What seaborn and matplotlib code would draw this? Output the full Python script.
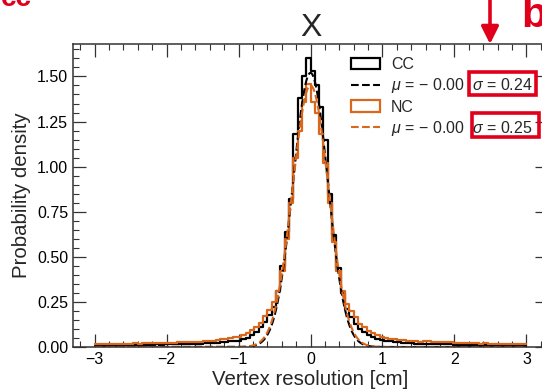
import numpy as np
import pandas as pd
import matplotlib
matplotlib.use("Agg")
import matplotlib.pyplot as plt
from matplotlib.patches import Patch, Rectangle
from matplotlib.lines import Line2D
from matplotlib.ticker import MultipleLocator
import seaborn as sns

# ---------------- data ----------------
bin_edges = [round(-3.0 + 0.06 * i, 4) for i in range(101)]          # 100 bins
bin_centers = [round(bin_edges[i] + 0.03, 4) for i in range(100)]

cc_density = [
    0.008, 0.009, 0.007, 0.010, 0.009, 0.008, 0.011, 0.010, 0.009, 0.012,
    0.010, 0.011, 0.013, 0.012, 0.014, 0.012, 0.015, 0.014, 0.016, 0.015,
    0.017, 0.016, 0.018, 0.019, 0.018, 0.020, 0.021, 0.023, 0.024, 0.026,
    0.028, 0.031, 0.034, 0.036, 0.044, 0.052, 0.066, 0.085, 0.110, 0.140,
    0.175, 0.220, 0.310, 0.450, 0.640, 0.820, 1.180, 1.380, 1.500, 1.600,
    1.530, 1.450, 1.330, 1.150, 0.850, 0.620, 0.440, 0.300, 0.210, 0.165,
    0.130, 0.100, 0.082, 0.068, 0.055, 0.046, 0.040, 0.035, 0.031, 0.028,
    0.026, 0.024, 0.022, 0.021, 0.019, 0.018, 0.019, 0.017, 0.016, 0.017,
    0.015, 0.014, 0.015, 0.013, 0.012, 0.013, 0.011, 0.012, 0.010, 0.011,
    0.009, 0.010, 0.009, 0.008, 0.009, 0.008, 0.007, 0.008, 0.007, 0.008,
]
nc_density = [
    0.016, 0.017, 0.015, 0.018, 0.017, 0.016, 0.019, 0.018, 0.017, 0.020,
    0.019, 0.021, 0.020, 0.022, 0.021, 0.023, 0.022, 0.024, 0.023, 0.025,
    0.026, 0.025, 0.027, 0.028, 0.029, 0.031, 0.033, 0.035, 0.038, 0.042,
    0.045, 0.049, 0.053, 0.058, 0.066, 0.077, 0.092, 0.110, 0.135, 0.170,
    0.205, 0.250, 0.310, 0.420, 0.600, 0.800, 1.050, 1.200, 1.360, 1.460,
    1.360, 1.300, 1.180, 1.020, 0.800, 0.580, 0.420, 0.310, 0.240, 0.200,
    0.165, 0.130, 0.110, 0.090, 0.078, 0.066, 0.058, 0.052, 0.047, 0.043,
    0.040, 0.037, 0.035, 0.033, 0.031, 0.030, 0.032, 0.033, 0.030, 0.028,
    0.027, 0.026, 0.025, 0.024, 0.023, 0.022, 0.021, 0.022, 0.020, 0.019,
    0.020, 0.018, 0.019, 0.017, 0.018, 0.016, 0.017, 0.015, 0.016, 0.015,
]

# Gaussian fit parameters (legend values, amplitude)
cc_fit = {"mu": 0.0, "sigma": 0.24, "amp": 1.52}
nc_fit = {"mu": 0.0, "sigma": 0.25, "amp": 1.45}

series_labels = ["CC", "NC"]
fit_labels = ["$\\mu$ = \u2212 0.00  $\\sigma$ = 0.24",
              "$\\mu$ = \u2212 0.00  $\\sigma$ = 0.25"]
x_ticks = [-3, -2, -1, 0, 1, 2, 3]
y_ticks = [0.00, 0.25, 0.50, 0.75, 1.00, 1.25, 1.50]
title = "X"
x_label = "Vertex resolution [cm]"
y_label = "Probability density"

# ---------------- style ----------------
sns.set_theme(style="ticks")
plt.rcParams["font.family"] = ["Liberation Sans", "DejaVu Sans"]
plt.rcParams["mathtext.fontset"] = "custom"
plt.rcParams["mathtext.rm"] = "Liberation Sans"
plt.rcParams["mathtext.it"] = "Liberation Sans:italic"
plt.rcParams["mathtext.bf"] = "Liberation Sans:bold"

BLACK = "#000000"
ORANGE = "#d9681c"
RED = "#e0001b"

fig = plt.figure(figsize=(5.42, 3.91), dpi=100)
W, H = 542, 391
ax = fig.add_axes([73 / W, (H - 347) / H, (548 - 73) / W, (347 - 44) / H])

df = pd.DataFrame({
    "x": bin_centers + bin_centers,
    "w": cc_density + nc_density,
    "sample": ["CC"] * len(bin_centers) + ["NC"] * len(bin_centers),
})

for lab, col in zip(series_labels, [BLACK, ORANGE]):
    sub = df[df["sample"] == lab]
    sns.histplot(data=sub, x="x", weights="w", bins=bin_edges, element="step",
                 fill=False, stat="count", color=col, linewidth=1.6, ax=ax)

xgrid = np.linspace(-3, 3, 1201)
for fit, col in zip([cc_fit, nc_fit], [BLACK, ORANGE]):
    yfit = fit["amp"] * np.exp(-0.5 * ((xgrid - fit["mu"]) / fit["sigma"]) ** 2)
    sns.lineplot(x=xgrid, y=yfit, color=col, linestyle="--", linewidth=1.5, ax=ax)

ax.set_xlim(-3.3, 3.3)
ax.set_ylim(0, 1.68)
ax.set_xticks(x_ticks)
ax.set_xticklabels([("\u2212" if t < 0 else "") + str(abs(t)) for t in x_ticks])
ax.set_yticks(y_ticks)
ax.set_yticklabels([f"{t:.2f}" for t in y_ticks])
ax.xaxis.set_minor_locator(MultipleLocator(0.2))
ax.yaxis.set_minor_locator(MultipleLocator(0.05))
ax.tick_params(which="both", direction="in", top=True, right=True, colors="#333333",
               labelcolor="black", labelsize=11.5)
ax.tick_params(which="major", length=9.5, width=0.9)
ax.tick_params(which="minor", length=4.5, width=0.8)
for s in ax.spines.values():
    s.set_visible(True)
    s.set_color("#333333")
    s.set_linewidth(1.1)

ax.set_title(title, fontsize=23, pad=6)
ax.set_xlabel(x_label, fontsize=14.7, labelpad=2)
ax.set_ylabel(y_label, fontsize=14.7, labelpad=4)

handles = [
    Patch(facecolor="none", edgecolor=BLACK, linewidth=1.6),
    Line2D([], [], color=BLACK, linestyle="--", linewidth=1.5),
    Patch(facecolor="none", edgecolor=ORANGE, linewidth=1.6),
    Line2D([], [], color=ORANGE, linestyle="--", linewidth=1.5),
]
labels = [series_labels[0], fit_labels[0], series_labels[1], fit_labels[1]]
fig.legend(handles, labels, loc="upper left", bbox_to_anchor=(351 / W, (H - 57) / H),
           frameon=False, fontsize=11.5, handlelength=1.8, handletextpad=0.72,
           labelspacing=0.27, borderpad=0.0, borderaxespad=0.0)

# red annotations
fig.patches.append(Rectangle((469 / W, (H - 95) / H), 67 / W, 23 / H, transform=fig.transFigure,
                             fill=False, edgecolor=RED, linewidth=2.6))
fig.patches.append(Rectangle((472 / W, (H - 137) / H), 67 / W, 24 / H, transform=fig.transFigure,
                             fill=False, edgecolor=RED, linewidth=2.6))
ax.annotate("", xy=(490, H - 44), xytext=(490, H + 2), xycoords="figure pixels",
            textcoords="figure pixels", annotation_clip=False,
            arrowprops=dict(arrowstyle="-|>", color=RED, lw=2.6, mutation_scale=26,
                            shrinkA=0, shrinkB=0))
fig.text(1 / W, (H - 6) / H, "cc", color=RED, fontsize=20, fontweight="bold",
         ha="left", va="baseline")
fig.text(521 / W, (H - 27) / H, "b", color=RED, fontsize=30, fontweight="bold",
         ha="left", va="baseline")

fig.savefig("out.png", dpi=100)
